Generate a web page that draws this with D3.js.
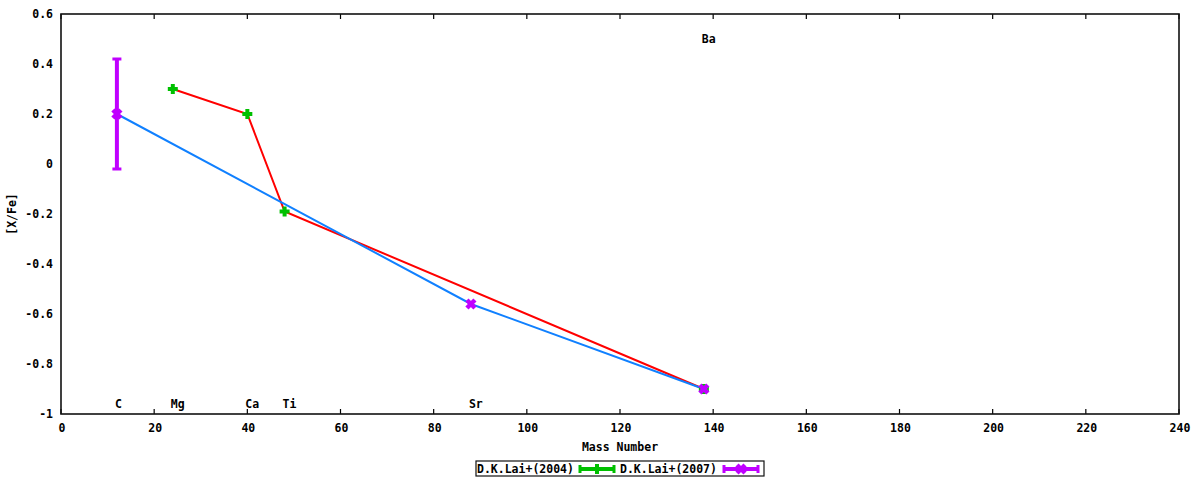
<!DOCTYPE html>
<html lang="en">
<head>
<meta charset="UTF-8">
<title>[X/Fe] vs Mass Number</title>
<style>
  body { margin: 0; background: #fff; }
  svg { display: block; }
  text { font-family: "DejaVu Sans Mono", "Liberation Mono", monospace; font-weight: bold; font-size: 11.5px; fill: #000; }
</style>
</head>
<body>
<svg width="1200" height="480"></svg>
<script src="https://d3js.org/d3.v7.min.js"></script>
<script>
// D.K.Lai+(2004) points (green), joined by a red line
const lai2004Mass = [24, 40, 48, 138];
const lai2004Val  = [0.30, 0.20, -0.19, -0.90];

// D.K.Lai+(2007) points (purple), joined by a blue line
const lai2007Mass = [12, 88, 138];
const lai2007Val  = [0.20, -0.56, -0.90];
const lai2007Lo   = [-0.02, -0.56, -0.90];
const lai2007Hi   = [0.42, -0.56, -0.90];

// element labels
const elemNames = ["C", "Mg", "Ca", "Ti", "Sr", "Ba"];
const elemMass  = [12, 24, 40, 48, 88, 138];
const elemY     = [-0.96, -0.96, -0.96, -0.96, -0.96, 0.50];

const xTicks = [0, 20, 40, 60, 80, 100, 120, 140, 160, 180, 200, 220, 240];
const yTicks = [-1, -0.8, -0.6, -0.4, -0.2, 0, 0.2, 0.4, 0.6];

const svg = d3.select("svg");
const plotL = 61, plotR = 1179, plotT = 14, plotB = 414;

const x = d3.scaleLinear().domain([0, 240]).range([plotL, plotR]);
const y = d3.scaleLinear().domain([-1, 0.6]).range([plotB, plotT]);

const green = "#00c000", purple = "#c000ff", red = "#ff0000", blue = "#1080ff";

// x ticks (inward, bottom and top)
const tickG = svg.append("g");
xTicks.forEach(t => {
  tickG.append("line").attr("x1", x(t)).attr("x2", x(t)).attr("y1", plotB).attr("y2", plotB - 5)
    .attr("stroke", "#000").attr("stroke-width", 1.2);
  tickG.append("line").attr("x1", x(t)).attr("x2", x(t)).attr("y1", plotT).attr("y2", plotT + 5)
    .attr("stroke", "#000").attr("stroke-width", 1.2);
  tickG.append("text").attr("x", x(t) + 1).attr("y", plotB + 18)
    .attr("text-anchor", "middle").text(t);
});

// y tick labels
yTicks.forEach(t => {
  svg.append("text").attr("x", 53).attr("y", y(t)).attr("dy", "0.35em")
    .attr("text-anchor", "end").text(d3.format("~g")(t).replace("−", "-"));
});

// axis titles
svg.append("text").attr("x", 620).attr("y", 451).attr("text-anchor", "middle").text("Mass Number");
svg.append("text").attr("transform", "translate(16,214) rotate(-90)")
  .attr("text-anchor", "middle").text("[X/Fe]");

// frame
svg.append("rect").attr("x", plotL).attr("y", plotT).attr("width", plotR - plotL).attr("height", plotB - plotT)
  .attr("fill", "none").attr("stroke", "#111").attr("stroke-width", 1.6);

// element labels (left-aligned near each mass)
elemNames.forEach((n, i) => {
  svg.append("text").attr("x", x(elemMass[i]) - 2).attr("y", y(elemY[i])).attr("dy", "0.35em")
    .attr("text-anchor", "start").text(n);
});

const line = d3.line().x(d => x(d[0])).y(d => y(d[1]));

// lines
svg.append("path").datum(lai2004Mass.map((m, i) => [m, lai2004Val[i]]))
  .attr("d", line).attr("fill", "none").attr("stroke", red).attr("stroke-width", 2);
svg.append("path").datum(lai2007Mass.map((m, i) => [m, lai2007Val[i]]))
  .attr("d", line).attr("fill", "none").attr("stroke", blue).attr("stroke-width", 2);

// markers
function plus(g, cx, cy, col) {
  g.append("line").attr("x1", cx - 5).attr("x2", cx + 5).attr("y1", cy).attr("y2", cy)
    .attr("stroke", col).attr("stroke-width", 4);
  g.append("line").attr("x1", cx).attr("x2", cx).attr("y1", cy - 5).attr("y2", cy + 5)
    .attr("stroke", col).attr("stroke-width", 4);
}
function cross(g, cx, cy, col) {
  g.append("line").attr("x1", cx - 4).attr("x2", cx + 4).attr("y1", cy - 4).attr("y2", cy + 4)
    .attr("stroke", col).attr("stroke-width", 4.5);
  g.append("line").attr("x1", cx - 4).attr("x2", cx + 4).attr("y1", cy + 4).attr("y2", cy - 4)
    .attr("stroke", col).attr("stroke-width", 4.5);
}
function errBar(g, cx, lo, hi, col) {
  g.append("line").attr("x1", cx).attr("x2", cx).attr("y1", lo).attr("y2", hi)
    .attr("stroke", col).attr("stroke-width", 4);
  [lo, hi].forEach(v => g.append("line").attr("x1", cx - 4.5).attr("x2", cx + 4.5).attr("y1", v).attr("y2", v)
    .attr("stroke", col).attr("stroke-width", 3));
}

const mg = svg.append("g");
lai2004Mass.forEach((m, i) => plus(mg, x(m), y(lai2004Val[i]), green));
lai2007Mass.forEach((m, i) => {
  if (lai2007Hi[i] !== lai2007Lo[i]) errBar(mg, x(m), y(lai2007Lo[i]), y(lai2007Hi[i]), purple);
  cross(mg, x(m), y(lai2007Val[i]), purple);
});

// legend
const lg = svg.append("g");
lg.append("rect").attr("x", 476).attr("y", 461).attr("width", 288).attr("height", 15)
  .attr("fill", "#fff").attr("stroke", "#111").attr("stroke-width", 1.2);
const legItems = [
  { label: "D.K.Lai+(2004)", col: green, tx: 477, x0: 580, x1: 614, mark: plus },
  { label: "D.K.Lai+(2007)", col: purple, tx: 620, x0: 724, x1: 758, mark: cross }
];
legItems.forEach(it => {
  lg.append("text").attr("x", it.tx).attr("y", 469).attr("dy", "0.35em").text(it.label);
  lg.append("line").attr("x1", it.x0).attr("x2", it.x1).attr("y1", 469).attr("y2", 469)
    .attr("stroke", it.col).attr("stroke-width", 4);
  [it.x0, it.x1].forEach(xx => lg.append("line").attr("x1", xx).attr("x2", xx).attr("y1", 465).attr("y2", 473)
    .attr("stroke", it.col).attr("stroke-width", 3));
  it.mark(lg, (it.x0 + it.x1) / 2, 469, it.col);
});
</script>
</body>
</html>
